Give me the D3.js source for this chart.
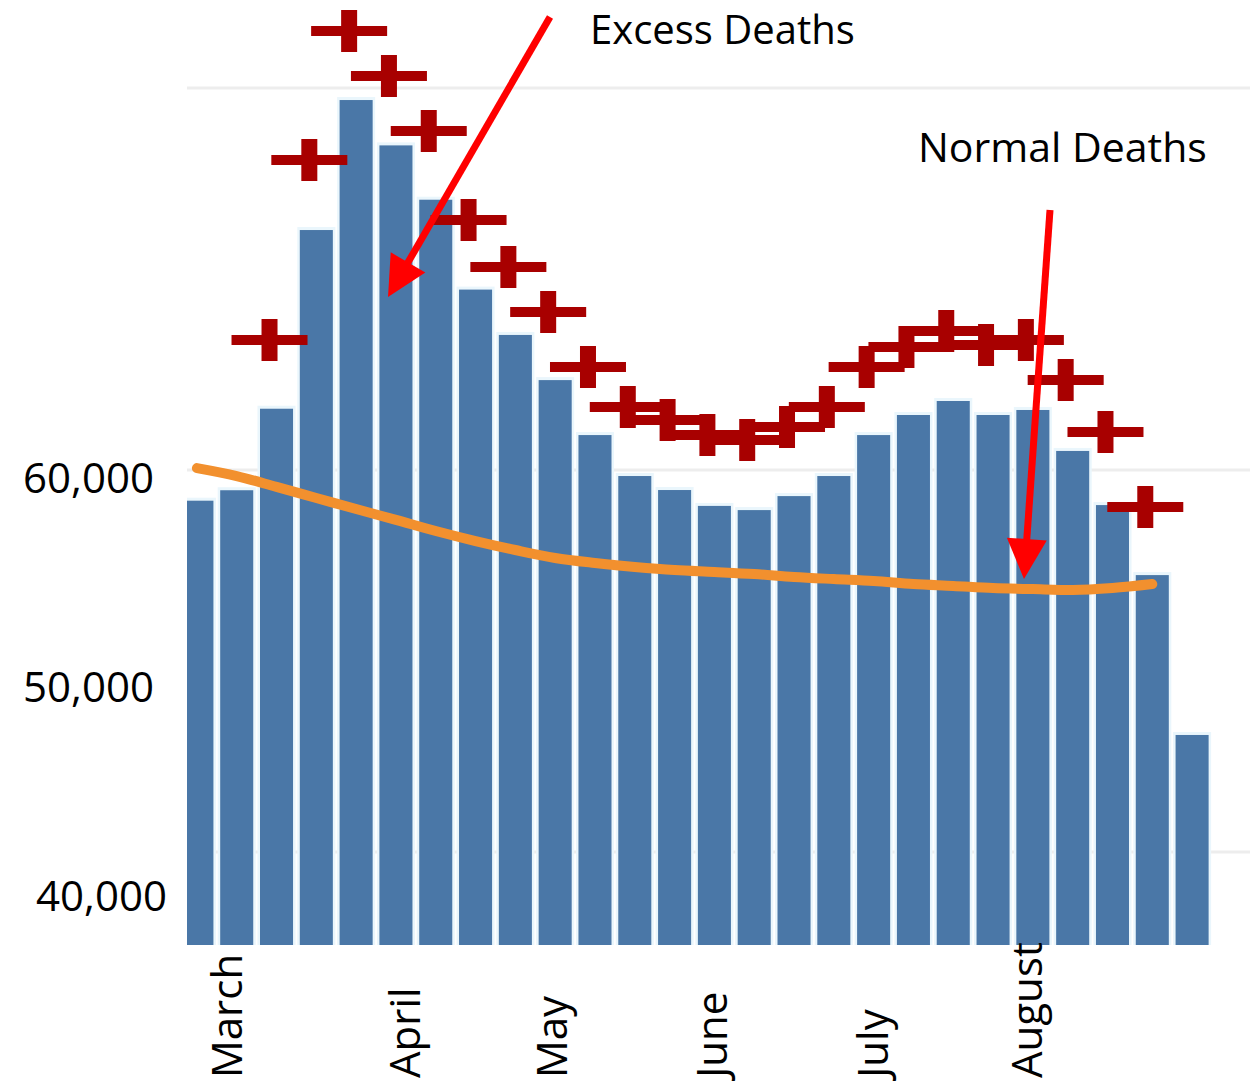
<!DOCTYPE html>
<html>
<head>
<meta charset="utf-8">
<script src="https://cdn.jsdelivr.net/npm/d3@7"></script>
<style>
  body { margin: 0; background: #fff; }
  text { font-family: "Open Sans", sans-serif; fill: #000; }
</style>
</head>
<body>
<script>
// weekly deaths, one entry per week
var weeks = d3.range(1, 27).map(function (i) { return "Week " + i; });
var deaths = [58900, 59400, 63300, 71850, 78070, 75900, 73300, 69000, 66830, 64670,
              62040, 60080, 59410, 58650, 58450, 59120, 60080, 62040, 63000, 63670,
              63000, 63240, 61280, 58690, 55340, 47690];
// red plus markers (null = no marker that week)
var upper = [null, null, 66590, 75200, 81370, 79220, 76590, 72330, 70080, 67930,
             65300, 63380, 62760, 62040, 61800, 62430, 63380, 65300, 66250, 67020,
             66350, 66590, 64670, 62190, 58600, null];
// orange "normal deaths" line (first 25 weeks)
var normal = [60460, 60080, 59560, 59030, 58500, 57980, 57450, 56970, 56540, 56160,
              55920, 55730, 55580, 55490, 55390, 55250, 55150, 55060, 54910, 54820,
              54720, 54670, 54630, 54720, 54910];
var yTicks = [40000, 50000, 60000];
var gridValues = [78650, 60370, 42090];
var months = ["March", "April", "May", "June", "July", "August"];
var monthPos = [1.26, 5.73, 9.42, 13.44, 17.49, 21.36]; // in weeks from start

var W = 1250, H = 1081;
var plotLeft = 187, plotRight = 1250, plotBottom = 945;

var svg = d3.select("body").append("svg")
  .attr("width", W).attr("height", H);

var x = d3.scaleBand()
  .domain(weeks)
  .range([177, 1212])
  .paddingInner(0.17)
  .paddingOuter(0.085);

var xw = d3.scaleLinear().domain([0, weeks.length]).range([177, 1212]);

var y = d3.scaleLinear()
  .domain([40000, 60000])
  .range([895.7, 477.7]);

svg.append("clipPath").attr("id", "plot")
  .append("rect")
  .attr("x", plotLeft).attr("y", 0)
  .attr("width", plotRight - plotLeft).attr("height", H);

// gridlines
svg.append("g").selectAll("line")
  .data(gridValues)
  .enter().append("line")
  .attr("x1", plotLeft).attr("x2", plotRight)
  .attr("y1", function (d) { return y(d); })
  .attr("y2", function (d) { return y(d); })
  .attr("stroke", "#ededed")
  .attr("stroke-width", 3);

var plot = svg.append("g").attr("clip-path", "url(#plot)");

// light halo behind the bars
plot.append("g").selectAll("rect")
  .data(deaths)
  .enter().append("rect")
  .attr("x", function (d, i) { return x(weeks[i]) - 2.5; })
  .attr("y", function (d) { return y(d) - 3; })
  .attr("width", x.bandwidth() + 5)
  .attr("height", function (d) { return plotBottom - y(d) + 3; })
  .attr("fill", "#eaf6fc");

plot.append("g").selectAll("rect")
  .data(deaths)
  .enter().append("rect")
  .attr("x", function (d, i) { return x(weeks[i]); })
  .attr("y", function (d) { return y(d); })
  .attr("width", x.bandwidth())
  .attr("height", function (d) { return plotBottom - y(d); })
  .attr("fill", "#4a77a7");

// normal deaths line
var line = d3.line()
  .x(function (d, i) { return x(weeks[i]) + x.bandwidth() / 2; })
  .y(function (d) { return y(d); })
  .curve(d3.curveMonotoneX);

plot.append("path")
  .datum(normal)
  .attr("d", line)
  .attr("fill", "none")
  .attr("stroke", "#f2902e")
  .attr("stroke-width", 10)
  .attr("stroke-linecap", "round");

// plus markers
var plusPath = "M-38,-5H-8V-21H8V-5H38V5H8V21H-8V5H-38Z";
svg.append("g").selectAll("path")
  .data(upper.map(function (v, i) { return { v: v, i: i }; })
    .filter(function (d) { return d.v !== null; }))
  .enter().append("path")
  .attr("d", plusPath)
  .attr("transform", function (d) {
    return "translate(" + (x(weeks[d.i]) + x.bandwidth() / 2 - 7) + "," + y(d.v) + ")";
  })
  .attr("fill", "#a80000");

// y axis
var yAxis = svg.append("g")
  .attr("transform", "translate(154,0)")
  .call(d3.axisLeft(y).tickValues(yTicks).tickSize(0).tickPadding(0)
    .tickFormat(d3.format(",")));
yAxis.select(".domain").remove();
yAxis.selectAll("text")
  .style("font-family", "'Open Sans', sans-serif")
  .style("font-size", "42px")
  .attr("fill", "#000")
  .attr("dy", "0.35em")
  .attr("x", function (d) { return d === 40000 ? 13 : 0; });

// month labels
svg.append("g").selectAll("text")
  .data(months)
  .enter().append("text")
  .attr("transform", function (d, i) {
    return "translate(" + (xw(monthPos[i]) + 15) + ",1078) rotate(-90)";
  })
  .attr("text-anchor", "start")
  .style("font-size", "42px")
  .text(function (d) { return d; });

// annotations
function arrow(x1, y1, x2, y2) {
  var dx = x2 - x1, dy = y2 - y1, len = Math.sqrt(dx * dx + dy * dy);
  var ux = dx / len, uy = dy / len, hl = 40, hw = 20;
  var bx = x2 - ux * hl, by = y2 - uy * hl;
  var g = svg.append("g");
  g.append("line")
    .attr("x1", x1).attr("y1", y1).attr("x2", bx + ux * 2).attr("y2", by + uy * 2)
    .attr("stroke", "#ff0000").attr("stroke-width", 7);
  g.append("path")
    .attr("d", "M" + x2 + "," + y2 +
      "L" + (bx - uy * hw) + "," + (by + ux * hw) +
      "L" + (bx + uy * hw) + "," + (by - ux * hw) + "Z")
    .attr("fill", "#ff0000");
}
arrow(550, 17, 388, 297);
arrow(1050, 210, 1024, 579);

svg.append("text").attr("x", 590).attr("y", 44)
  .style("font-size", "40px").text("Excess Deaths");
svg.append("text").attr("x", 918).attr("y", 162)
  .style("font-size", "41px").text("Normal Deaths");
</script>
</body>
</html>
